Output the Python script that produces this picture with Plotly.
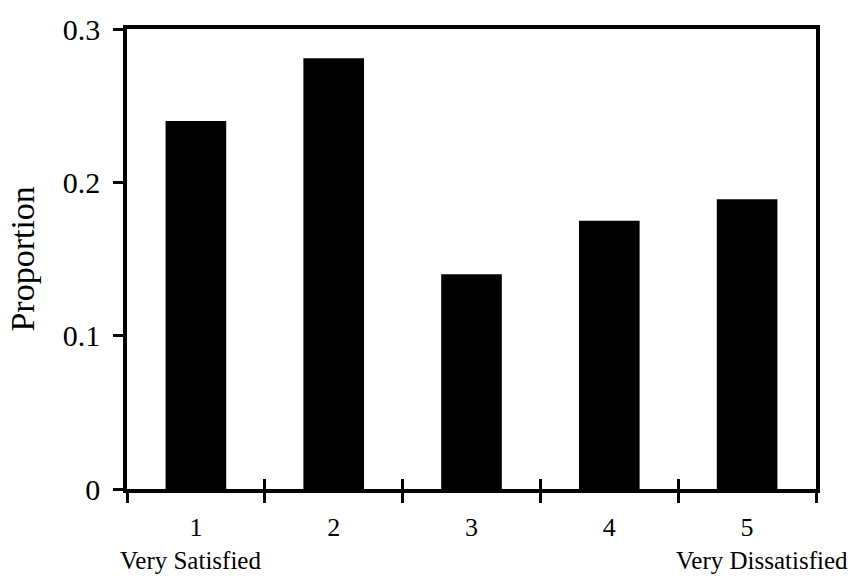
import plotly.graph_objects as go

categories = [1, 2, 3, 4, 5]
proportions = [0.240, 0.281, 0.140, 0.175, 0.189]
y_ticks = [0, 0.1, 0.2, 0.3]
y_tick_labels = ["0", "0.1", "0.2", "0.3"]
boundaries = [0.5, 1.5, 2.5, 3.5, 4.5, 5.5]
left_label = "Very Satisfied"
right_label = "Very Dissatisfied"
y_title = "Proportion"

FONT = "Liberation Serif, Times New Roman, serif"

fig = go.Figure()
fig.add_trace(go.Bar(x=categories, y=proportions, marker=dict(color="black", line=dict(width=0)),
                     width=0.44, showlegend=False, hoverinfo="skip"))
# invisible trace for the overlay axis carrying the upper halves of the crossing ticks
fig.add_trace(go.Scatter(x=[boundaries[0], boundaries[-1]], y=[0, 0], xaxis="x2", mode="none",
                         showlegend=False, hoverinfo="skip"))

fig.update_layout(
    width=853, height=577,
    margin=dict(l=127, r=37, t=29, b=88),
    paper_bgcolor="white", plot_bgcolor="white",
    font=dict(family=FONT, color="black"),
    xaxis=dict(
        range=[0.5, 5.5], tickvals=categories, ticktext=[str(c) for c in categories],
        ticks="outside", ticklen=0, tickwidth=2.5, tickcolor="black",
        showline=True, linewidth=3.5, linecolor="black", mirror=True,
        showgrid=False, zeroline=False,
        tickfont=dict(size=26, family=FONT),
        ticklabelstandoff=12,
        minor=dict(tickvals=boundaries, ticks="outside", ticklen=10, tickwidth=2.5,
                   tickcolor="black", showgrid=False),
    ),
    xaxis2=dict(
        range=[0.5, 5.5], overlaying="x", anchor="y", side="bottom",
        tickvals=boundaries, ticks="inside", ticklen=10, tickwidth=2.5, tickcolor="black",
        showticklabels=False, showline=False, showgrid=False, zeroline=False,
    ),
    yaxis=dict(
        range=[0, 0.3], tickvals=y_ticks, ticktext=y_tick_labels,
        ticks="outside", ticklen=10, tickwidth=2.5, tickcolor="black",
        showline=True, linewidth=3.5, linecolor="black", mirror=True,
        showgrid=False, zeroline=False,
        tickfont=dict(size=30, family=FONT),
        ticklabelstandoff=7,
    ),
    bargap=0.56,
    annotations=[
        dict(text=y_title, xref="paper", yref="paper", x=-0.153, y=0.5, textangle=-90,
             showarrow=False, xanchor="center", yanchor="middle", font=dict(size=34, family=FONT)),
        dict(text=left_label, xref="paper", yref="paper", x=-0.013, y=-0.155,
             showarrow=False, xanchor="left", yanchor="middle", font=dict(size=25, family=FONT)),
        dict(text=right_label, xref="paper", yref="paper", x=1.049, y=-0.155,
             showarrow=False, xanchor="right", yanchor="middle", font=dict(size=25, family=FONT)),
    ],
)

fig.write_html("out.html", config={"displayModeBar": False},
               post_script="document.body.style.margin='0px';")
